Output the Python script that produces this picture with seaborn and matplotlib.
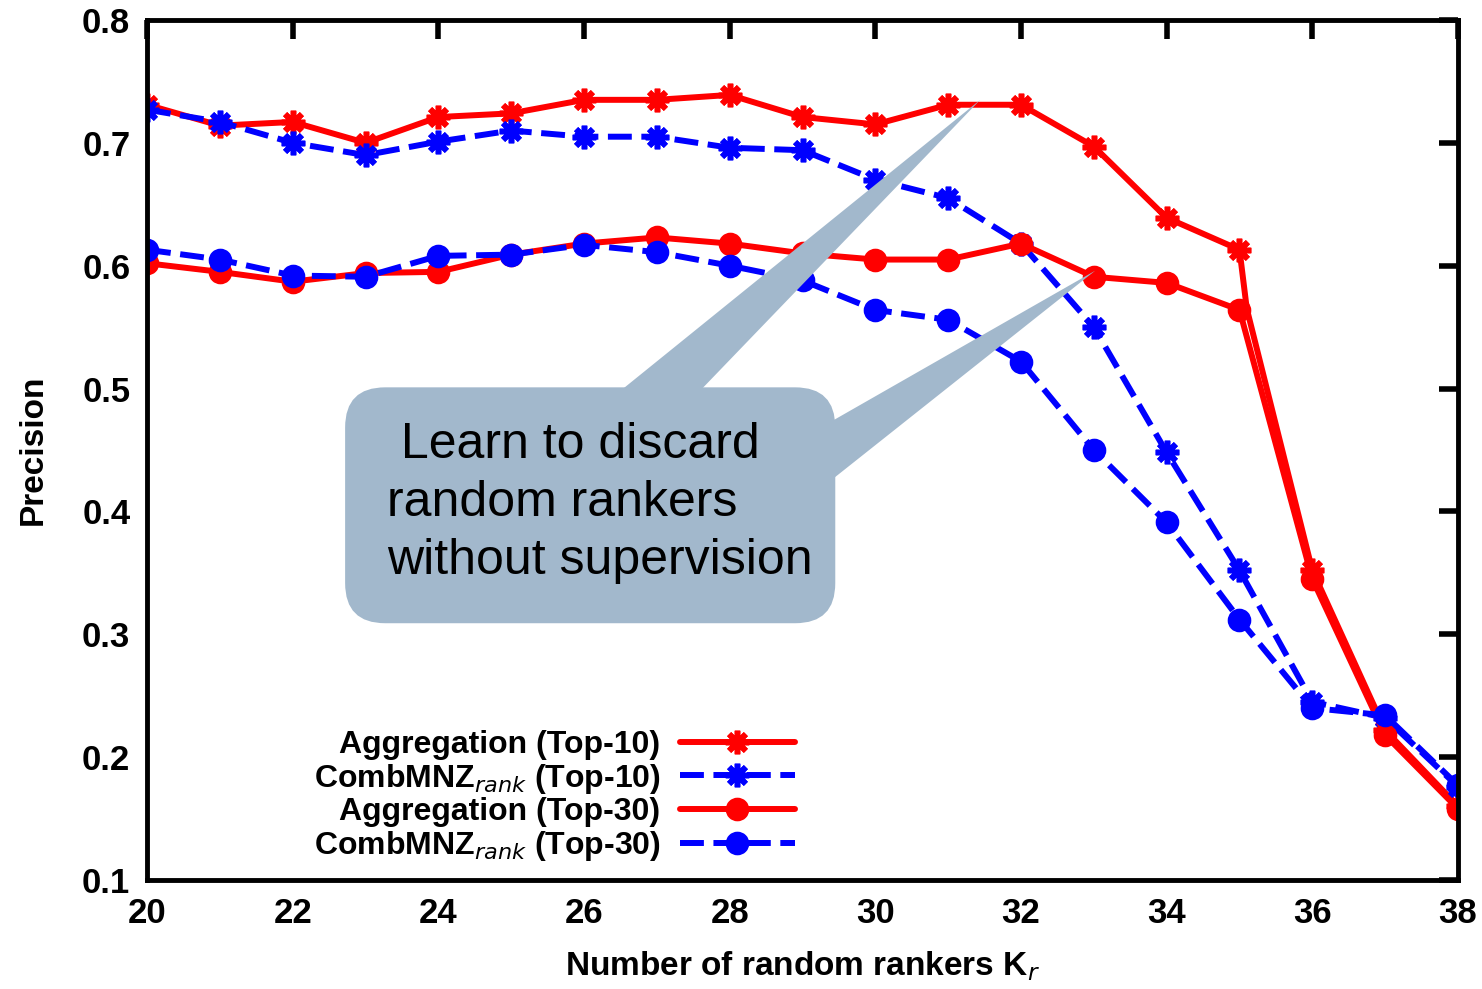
"""Precision vs number of random rankers, with callout."""

import matplotlib.pyplot as plt
import seaborn as sns
from matplotlib.patches import FancyBboxPatch, Polygon

# Data
k_r = [20, 21, 22, 23, 24, 25, 26, 27, 28, 29, 30, 31, 32, 33, 34, 35, 36, 37, 38]
agg_top10_x = [20, 21, 22, 23, 24, 25, 26, 27, 28, 29, 30, 31, 32, 33, 34, 35, 35.1, 36, 37, 38]
agg_top10 = [0.731, 0.714, 0.717, 0.700, 0.721, 0.724, 0.735, 0.735, 0.739, 0.721,
             0.715, 0.731, 0.731, 0.697, 0.639, 0.613, 0.565, 0.352, 0.222, 0.160]
comb_top10 = [0.727, 0.717, 0.700, 0.690, 0.701, 0.710, 0.705, 0.705, 0.696, 0.694,
              0.670, 0.655, 0.618, 0.550, 0.448, 0.352, 0.245, 0.232, 0.176]
agg_top30 = [0.602, 0.595, 0.587, 0.594, 0.595, 0.609, 0.618, 0.623, 0.618, 0.610,
             0.605, 0.605, 0.618, 0.591, 0.586, 0.564, 0.345, 0.218, 0.158]
comb_top30 = [0.613, 0.605, 0.592, 0.591, 0.608, 0.609, 0.617, 0.611, 0.600, 0.588,
              0.564, 0.556, 0.522, 0.450, 0.391, 0.312, 0.240, 0.234, 0.177]

labels = ["Aggregation (Top-10)", "CombMNZ$_{rank}$ (Top-10)",
          "Aggregation (Top-30)", "CombMNZ$_{rank}$ (Top-30)"]
x_ticks = [20, 22, 24, 26, 28, 30, 32, 34, 36, 38]
y_ticks = [0.1, 0.2, 0.3, 0.4, 0.5, 0.6, 0.7, 0.8]
y_tick_labels = ["0.1", "0.2", "0.3", "0.4", "0.5", "0.6", "0.7", "0.8"]
callout_text = " Learn to discard\nrandom rankers\nwithout supervision"

RED = "#ff0000"
BLUE = "#0000ff"
CALLOUT = "#a2b8cc"
STAR = (8, 2, 0)

sns.set_style("white")
plt.rcParams["font.family"] = ["Liberation Sans", "DejaVu Sans"]
plt.rcParams["text.color"] = "black"
plt.rcParams["axes.labelcolor"] = "black"
plt.rcParams["xtick.color"] = "black"
plt.rcParams["ytick.color"] = "black"

fig = plt.figure(figsize=(14.82, 9.89), dpi=100)
ax = fig.add_axes([0.0992, 0.1102, 0.8846, 0.8696])

series = [
    (agg_top10_x, agg_top10, labels[0], RED, "-", STAR, 17),
    (k_r, comb_top10, labels[1], BLUE, (0, (4, 1.6)), STAR, 17),
    (k_r, agg_top30, labels[2], RED, "-", "o", 13),
    (k_r, comb_top30, labels[3], BLUE, (0, (4, 1.6)), "o", 13),
]
for xs, ys, lab, col, ls, mk, ms in series:
    marks = [i for i, v in enumerate(xs) if float(v).is_integer()]
    sns.lineplot(x=xs, y=ys, ax=ax, label=lab, color=col, linestyle=ls,
                 linewidth=4.3, marker=mk, markersize=ms, markeredgewidth=4,
                 markeredgecolor=col, markevery=marks, sort=False)

ax.set_xlim(20, 38)
ax.set_ylim(0.1, 0.8)
ax.set_xticks(x_ticks)
ax.set_yticks(y_ticks)
ax.set_yticklabels(y_tick_labels)
for side in ax.spines.values():
    side.set_linewidth(3.5)
    side.set_color("black")
ax.tick_params(direction="in", top=True, right=True, length=14, width=4,
               labelsize=25, pad=12)
for lbl in ax.get_xticklabels() + ax.get_yticklabels():
    lbl.set_fontweight("bold")
ax.set_xlabel("Number of random rankers K$_r$", fontsize=24, fontweight="bold", labelpad=14)
ax.set_ylabel("Precision", fontsize=24, fontweight="bold", labelpad=24)

leg = ax.legend(loc="lower right", bbox_to_anchor=(0.494, 0.02), markerfirst=False,
                frameon=False, fontsize=23, handlelength=3.6, handletextpad=0.6,
                labelspacing=0.05, borderpad=0, borderaxespad=0)
for t in leg.get_texts():
    t.set_fontweight("bold")

# Callout bubble with two pointers
ax_w = 0.8846 * 1482
ax_h = 0.8696 * 989
aspect = (0.7 / ax_h) / (18 / ax_w)
for base, tip in [([(26.33, 0.49), (27.46, 0.49)], (31.44, 0.735)),
                  ([(29.3, 0.470), (29.3, 0.421)], (33.02, 0.596))]:
    ax.add_patch(Polygon(base + [tip], closed=True, facecolor=CALLOUT,
                         edgecolor="none", zorder=5))
ax.add_patch(FancyBboxPatch((22.72, 0.309), 6.73, 0.192,
                            boxstyle="round,pad=0,rounding_size=0.55",
                            mutation_aspect=aspect, facecolor=CALLOUT,
                            edgecolor="none", zorder=5))
ax.text(23.3, 0.407, callout_text, fontsize=36, ha="left", va="center",
        linespacing=1.33, zorder=6)

plt.savefig("out.png", dpi=100)
